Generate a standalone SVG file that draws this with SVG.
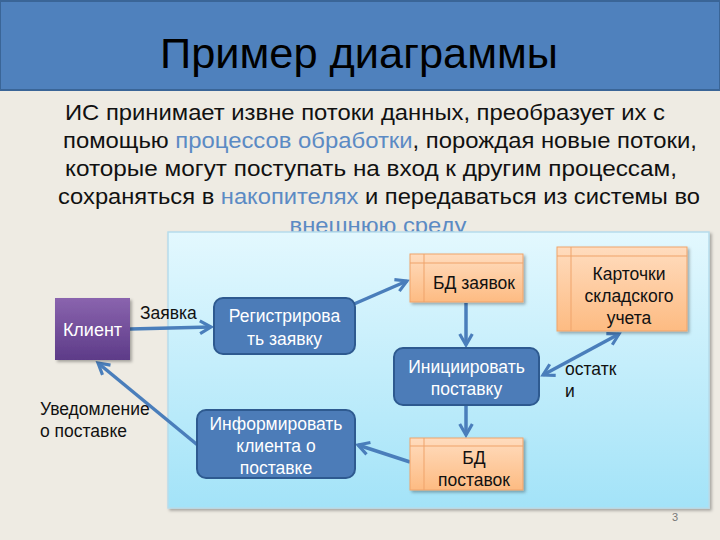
<svg xmlns="http://www.w3.org/2000/svg" width="720" height="540" viewBox="0 0 720 540">
<defs>
<style>
.t{font-family:"Liberation Sans",Arial,sans-serif}
.body{font-size:22.5px;fill:#111;text-anchor:middle}
.hl{fill:#5B8AC4}
.proc{fill:#4C7CB8;stroke:#2E5A90;stroke-width:2}
.pt{font-size:17.5px;fill:#fff;text-anchor:middle}
.st{fill:url(#og);stroke:#EFA36A;stroke-width:1}
.sl{stroke:#EFA36A;stroke-width:1;fill:none}
.dt{font-size:17.5px;fill:#111;text-anchor:middle}
.lab{font-size:17.5px;fill:#111}
.c{stroke:#4A7EBB;stroke-width:3.5;fill:none}
</style>
<linearGradient id="og" x1="0" y1="0" x2="0" y2="1"><stop offset="0" stop-color="#FFDCBE"/><stop offset="1" stop-color="#FDBB82"/></linearGradient>
<linearGradient id="pg" x1="0" y1="0" x2="0" y2="1"><stop offset="0" stop-color="#E3F8FE"/><stop offset="1" stop-color="#A3E3F8"/></linearGradient>
<linearGradient id="cg" x1="0" y1="0" x2="0" y2="1"><stop offset="0" stop-color="#8A64AE"/><stop offset="1" stop-color="#5D3B88"/></linearGradient>
<marker id="a" viewBox="0 0 10 10" refX="8" refY="5" markerWidth="4.5" markerHeight="4.5" orient="auto-start-reverse" markerUnits="strokeWidth">
<path d="M1,1 L8,5 L1,9" fill="none" stroke="#4A7EBB" stroke-width="2" stroke-linejoin="miter"/>
</marker>
<filter id="sh" x="-10%" y="-10%" width="130%" height="130%"><feDropShadow dx="2" dy="2" stdDeviation="1.5" flood-color="#000" flood-opacity="0.3"/></filter>
</defs>
<rect width="720" height="540" fill="#EEEBE3"/>
<g id="title">
<rect x="0" y="1" width="720" height="89" fill="#4F81BD" stroke="#3A6597" stroke-width="2"/>
<text class="t" x="359" y="68" font-size="42" text-anchor="middle" textLength="398" lengthAdjust="spacingAndGlyphs" fill="#000">Пример диаграммы</text>
</g>
<g id="intro">
<text class="t body" x="365" y="120" textLength="600" lengthAdjust="spacingAndGlyphs">ИС принимает извне потоки данных, преобразует их с</text>
<text class="t body" x="380" y="148" textLength="634" lengthAdjust="spacingAndGlyphs">помощью <tspan class="hl">процессов обработки</tspan>, порождая новые потоки,</text>
<text class="t body" x="371" y="176" textLength="612" lengthAdjust="spacingAndGlyphs">которые могут поступать на вход к другим процессам,</text>
<text class="t body" x="379" y="204" textLength="642" lengthAdjust="spacingAndGlyphs">сохраняться в <tspan class="hl">накопителях</tspan> и передаваться из системы во</text>
<text class="t body hl" x="378" y="233" textLength="177" lengthAdjust="spacingAndGlyphs">внешнюю среду</text>
</g>
<g id="panel">
<rect x="168" y="232" width="541" height="276" fill="url(#pg)" stroke="#B6DCEB" stroke-width="1.5" filter="url(#sh)"/>
</g>
<g id="connectors">
<line class="c" x1="130" y1="329" x2="211" y2="327" marker-end="url(#a)"/>
<line class="c" x1="354" y1="304" x2="407" y2="281" marker-end="url(#a)"/>
<line class="c" x1="466" y1="303" x2="466" y2="345" marker-end="url(#a)"/>
<line class="c" x1="466" y1="406" x2="466" y2="435" marker-end="url(#a)"/>
<line class="c" x1="410" y1="462" x2="358" y2="445" marker-end="url(#a)"/>
<line class="c" x1="200" y1="447" x2="98" y2="363" marker-end="url(#a)"/>
<line class="c" x1="543" y1="375" x2="619" y2="334" marker-start="url(#a)" marker-end="url(#a)"/>
</g>
<g id="client">
<rect x="55" y="298" width="75" height="62" fill="url(#cg)" filter="url(#sh)"/>
<text class="t" x="92.5" y="336" font-size="18" fill="#fff" text-anchor="middle">Клиент</text>
</g>
<g id="register">
<rect class="proc" x="214" y="298" width="141" height="56" rx="9"/>
<text class="t pt" x="284.5" y="322">Регистрирова</text>
<text class="t pt" x="284.5" y="345">ть заявку</text>
</g>
<g id="db-orders">
<rect class="st" x="410" y="254" width="113" height="48" filter="url(#sh)"/>
<path class="sl" d="M410,263 H523 M424,254 V302"/>
<text class="t dt" x="474" y="289">БД заявок</text>
</g>
<g id="cards">
<rect class="st" x="557" y="247" width="130" height="84" filter="url(#sh)"/>
<path class="sl" d="M557,256 H687 M571,247 V331"/>
<text class="t dt" x="629" y="280">Карточки</text>
<text class="t dt" x="629" y="302">складского</text>
<text class="t dt" x="629" y="324">учета</text>
</g>
<g id="initiate">
<rect class="proc" x="394" y="348" width="145" height="57" rx="9"/>
<text class="t pt" x="466.5" y="373">Инициировать</text>
<text class="t pt" x="466.5" y="395">поставку</text>
</g>
<g id="db-deliveries">
<rect class="st" x="410" y="438" width="113" height="52" filter="url(#sh)"/>
<path class="sl" d="M410,446 H523 M424,438 V490"/>
<text class="t dt" x="474" y="464">БД</text>
<text class="t dt" x="474" y="486">поставок</text>
</g>
<g id="inform">
<rect class="proc" x="197" y="410" width="158" height="68" rx="9"/>
<text class="t pt" x="276" y="430">Информировать</text>
<text class="t pt" x="276" y="452">клиента о</text>
<text class="t pt" x="276" y="474">поставке</text>
</g>
<g id="labels">
<text class="t lab" x="140" y="319">Заявка</text>
<text class="t lab" x="40" y="415">Уведомление</text>
<text class="t lab" x="40" y="437">о поставке</text>
<text class="t lab" x="565" y="375">остатк</text>
<text class="t lab" x="565" y="397">и</text>
<text class="t" x="675" y="521" font-size="11" fill="#777" text-anchor="middle">3</text>
</g>
</svg>
